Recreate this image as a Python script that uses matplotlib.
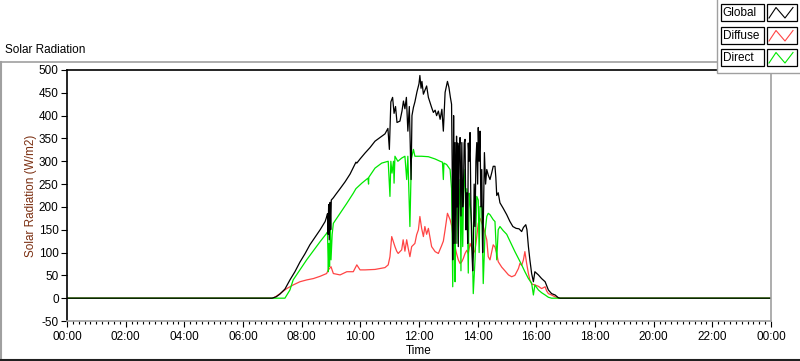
import matplotlib
matplotlib.use("Agg")
import matplotlib.pyplot as plt
from matplotlib.patches import Rectangle
from matplotlib.lines import Line2D
import numpy as np

# ---------------- data (hours of day, W/m2) ----------------
global_t = [0, 6.99, 7.13, 7.26, 7.43, 7.60, 7.77, 7.94, 8.11, 8.28, 8.45, 8.63, 8.80, 8.86,
            8.88, 8.90, 8.92, 8.94, 8.97, 8.99, 9.01, 9.08, 9.17, 9.31, 9.48, 9.65, 9.75, 9.85,
            9.88, 9.99, 10.16, 10.33, 10.50, 10.67, 10.84, 10.94, 10.99, 11.04, 11.10, 11.15,
            11.20, 11.25, 11.35, 11.42, 11.47, 11.52, 11.57, 11.62, 11.67, 11.73, 11.76, 11.81,
            11.86, 11.93, 12.00, 12.03, 12.07, 12.10, 12.15, 12.20, 12.26, 12.32, 12.38, 12.43,
            12.49, 12.55, 12.60, 12.66, 12.72, 12.78, 12.83, 12.89, 12.97, 13.02, 13.07, 13.11,
            13.13, 13.15, 13.17, 13.18, 13.20, 13.23, 13.26, 13.28, 13.30, 13.32, 13.34, 13.37,
            13.40, 13.43, 13.46, 13.49, 13.51, 13.54, 13.57, 13.60, 13.63, 13.66, 13.68, 13.71,
            13.74, 13.77, 13.80, 13.83, 13.85, 13.88, 13.91, 13.94, 13.97, 14.00, 14.02, 14.05,
            14.08, 14.11, 14.14, 14.17, 14.19, 14.23, 14.27, 14.31, 14.36, 14.42, 14.48, 14.53,
            14.59, 14.62, 14.65, 14.70, 14.76, 14.87, 14.99,
            15.10, 15.20, 15.31, 15.41, 15.50, 15.56, 15.64, 15.68, 15.73, 15.78, 15.84, 15.90,
            15.95, 16.07, 16.18, 16.30, 16.41, 16.52, 16.64, 16.75, 16.81, 24]
global_v = [0, 0, 3, 9, 20, 40, 58, 79, 97, 117, 133, 150, 168, 180,
            185, 140, 205, 128, 210, 150, 215, 220, 228, 240, 255, 272, 285, 298,
            296, 305, 318, 330, 344, 352, 360, 372, 326, 430, 440, 405,
            420, 385, 388, 410, 432, 415, 440, 366, 420, 260, 400, 418,
            430, 452, 470, 488, 460, 475, 447, 455, 465, 440, 428, 418,
            407, 412, 400, 410, 392, 414, 366, 451, 475, 462, 440, 425,
            300, 84, 250, 400, 120, 341, 120, 355, 200, 340, 113, 330,
            352, 180, 341, 200, 216, 340, 348, 150, 231, 120, 340, 300,
            363, 200, 113, 60, 91, 250, 157, 300, 341, 250, 374, 300,
            366, 200, 282, 100, 157, 319, 250, 282, 270, 260, 275, 289,
            289, 264, 225, 231, 209, 197, 183,
            168, 157, 153, 152, 146, 155, 161, 150, 113, 84, 54, 36,
            58, 51, 43, 36, 18, 10, 7, 1, 0, 0]

diffuse_t = [0, 7.02, 7.13, 7.26, 7.49, 7.71, 7.94, 8.17, 8.40, 8.63, 8.85, 8.91, 9.00, 9.08,
             9.31, 9.54, 9.76, 9.88, 9.99, 10.16, 10.50, 10.84, 10.95, 11.01, 11.07, 11.12,
             11.18, 11.24, 11.29, 11.41, 11.46, 11.52, 11.58, 11.63, 11.69, 11.75, 11.86, 11.92,
             11.98, 12.03, 12.09, 12.15, 12.20, 12.26, 12.32, 12.43, 12.55, 12.66, 12.77, 12.83,
             12.89, 12.97, 13.06, 13.12, 13.17, 13.23, 13.28, 13.34, 13.40, 13.46, 13.51, 13.57,
             13.63, 13.68, 13.74, 13.80, 13.85, 13.91, 13.97, 14.02, 14.08, 14.14, 14.19, 14.31,
             14.36, 14.42, 14.53, 14.59, 14.65, 14.70, 14.82, 14.93, 15.05, 15.16, 15.27, 15.39,
             15.44, 15.50, 15.56, 15.61, 15.67, 15.73, 15.78, 15.84, 15.95, 16.07, 16.18, 16.30,
             16.35, 16.41, 16.52, 16.64, 16.75, 24]
diffuse_v = [0, 0, 4, 10, 21, 29, 36, 40, 43, 48, 54, 62, 69, 54,
             51, 58, 58, 73, 62, 62, 63, 67, 73, 91, 135, 125,
             113, 103, 98, 106, 128, 103, 128, 110, 91, 113, 120, 139,
             150, 179, 153, 135, 157, 140, 153, 113, 102, 98, 115, 125,
             150, 186, 172, 157, 128, 113, 98, 84, 76, 80, 87, 98,
             105, 98, 120, 110, 98, 105, 135, 164, 175, 165, 157, 128,
             91, 84, 117, 112, 98, 80, 68, 60, 51, 47, 50, 65,
             76, 72, 84, 102, 76, 54, 40, 31, 29, 26, 21, 25,
             16, 10, 7, 3, 0, 0]

direct_t = [0, 7.43, 7.60, 7.71, 7.94, 8.17, 8.40, 8.63, 8.85, 8.88, 8.91, 8.93, 8.95, 8.98,
            9.00, 9.04, 9.08, 9.31, 9.54, 9.76, 9.85, 10.05, 10.26, 10.28, 10.29, 10.50, 10.73,
            10.95, 11.01, 11.04, 11.08, 11.13, 11.15, 11.18, 11.28, 11.41, 11.52, 11.58, 11.62,
            11.69, 11.74, 11.81, 11.86, 12.09, 12.32, 12.55, 12.72, 12.80, 12.83, 12.85, 12.94,
            13.06, 13.11, 13.15, 13.18, 13.21, 13.23, 13.26, 13.28, 13.33, 13.36, 13.40, 13.43,
            13.45, 13.49, 13.52, 13.57, 13.60, 13.63, 13.68, 13.71, 13.74, 13.80, 13.85, 13.91,
            13.97, 14.02, 14.05, 14.08, 14.14, 14.19, 14.25, 14.31, 14.36, 14.42, 14.53, 14.59,
            14.65, 14.70, 14.76, 14.87, 14.99, 15.10, 15.27, 15.39, 15.50, 15.61, 15.73, 15.84,
            15.90, 15.95, 16.07, 16.18, 16.30, 16.41, 16.52, 24]
direct_v = [0, 0, 18, 40, 62, 84, 104, 124, 142, 145, 58, 120, 70, 150,
            84, 140, 164, 186, 208, 230, 240, 252, 263, 250, 265, 285, 296,
            300, 223, 300, 274, 300, 252, 311, 300, 307, 311, 260, 311,
            157, 305, 326, 311, 311, 310, 305, 300, 298, 260, 296, 293,
            282, 240, 25, 280, 150, 36, 230, 275, 120, 200, 260, 60,
            265, 113, 230, 282, 150, 240, 55, 230, 213, 157, 10, 84,
            223, 215, 100, 201, 201, 32, 142, 179, 186, 183, 172, 168,
            84, 150, 157, 148, 140, 125, 102, 87, 73, 58, 43, 33,
            7, 29, 18, 12, 7, 2, 0, 0]

series_names = ["Global", "Diffuse", "Direct"]
series_colors = ["#000000", "#ff4444", "#00e800"]
x_tick_labels = ["00:00", "02:00", "04:00", "06:00", "08:00", "10:00", "12:00",
                 "14:00", "16:00", "18:00", "20:00", "22:00", "00:00"]
y_ticks = [-50, 0, 50, 100, 150, 200, 250, 300, 350, 400, 450, 500]

# ---------------- layout ----------------
W, H = 800, 361
plt.rcParams['font.family'] = ['Liberation Sans', 'DejaVu Sans']
FS = 8.5
fig = plt.figure(figsize=(W / 100, H / 100), dpi=100)
fig.patch.set_facecolor("white")

def fx(px):
    return px / W

def fy(py):
    return 1 - py / H

# background overlay for frame and title
bg = fig.add_axes([0, 0, 1, 1], zorder=0)
bg.set_xlim(0, W)
bg.set_ylim(H, 0)
bg.axis("off")
bg.add_line(Line2D([0.5, 717], [62, 62], color="#a0a0a0", lw=1.2))
bg.add_line(Line2D([0.8, 0.8], [62, 361], color="#a0a0a0", lw=1.5))
bg.add_line(Line2D([0, 800], [360, 360], color="#202020", lw=1.5))
bg.text(5, 50, "Solar Radiation", fontsize=FS, ha="left", va="center")

# main plot
L, R, T, B = 67, 771, 70, 321
ax = fig.add_axes([fx(L), fy(B), fx(R - L), fy(T) - fy(B)], zorder=1)
ax.plot(diffuse_t, diffuse_v, color=series_colors[1], lw=0.9)
ax.plot(direct_t, direct_v, color=series_colors[2], lw=0.9)
ax.plot(global_t, global_v, color=series_colors[0], lw=0.9)
ax.set_xlim(0, 24)
ax.set_ylim(-50, 500)
ax.set_xticks(np.arange(0, 25, 2))
ax.set_xticklabels(x_tick_labels, fontsize=FS)
ax.set_xticks(np.arange(0, 24.01, 0.2), minor=True)
ax.set_yticks(y_ticks)
ax.set_yticklabels([str(v) for v in y_ticks], fontsize=FS)
ax.tick_params(axis="both", which="major", direction="out", length=4.5, width=0.8, pad=1.5)
ax.tick_params(axis="x", which="minor", direction="out", length=2.5, width=0.8)
ax.tick_params(axis="x", which="major", length=4.5, pad=2.5)
for s in ("left", "top"):
    ax.spines[s].set_color("black")
    ax.spines[s].set_linewidth(1.2)
for s in ("right", "bottom"):
    ax.spines[s].set_color("#a0a0a0")
    ax.spines[s].set_linewidth(1.2)
ax.set_xlabel("Time", fontsize=FS, labelpad=2)
ax.set_ylabel("Solar Radiation (W/m2)", fontsize=FS, color="#7a2e10", labelpad=1)

# legend overlay (drawn on top)
lg = fig.add_axes([0, 0, 1, 1], zorder=3)
lg.set_xlim(0, W)
lg.set_ylim(H, 0)
lg.axis("off")
lg.patch.set_alpha(0)
lg.add_patch(Rectangle((717, -2), 90, 74.5, facecolor="white", edgecolor="#a0a0a0", lw=1.0))
row_tops = [4, 27, 49]
for name, col, top in zip(series_names, series_colors, row_tops):
    h = 17
    lg.add_patch(Rectangle((720.5, top), 43, h, facecolor="white", edgecolor="black", lw=0.9))
    lg.add_patch(Rectangle((766.5, top), 30, h, facecolor="white", edgecolor="black", lw=0.9))
    lg.text(722.5, top + h / 2 + 0.5, name, fontsize=FS, ha="left", va="center")
    zx = [769, 776, 785, 793]
    zy = [top + h - 3, top + 3.5, top + h - 3, top + 3.5]
    lg.add_line(Line2D(zx, zy, color=col, lw=0.8))

fig.savefig("out.png", dpi=100, facecolor="white")
